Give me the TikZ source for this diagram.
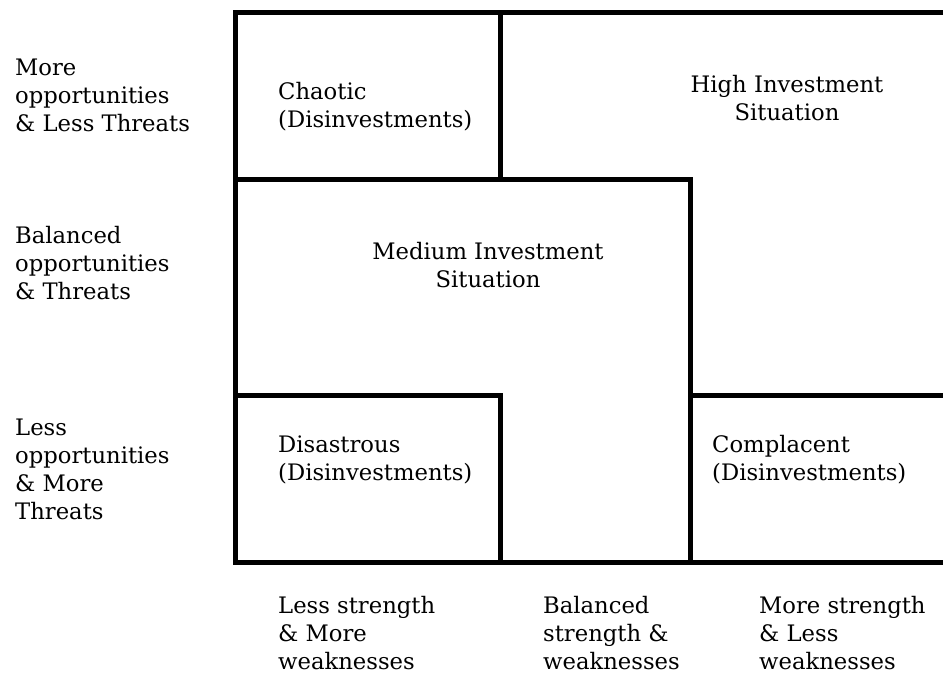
\documentclass[tikz,border=0pt]{standalone}
\usepackage{fontspec}
\setmainfont{DejaVu Serif}
\begin{document}
\begin{tikzpicture}[x=1pt,y=-1pt,
  wall/.style={line width=5pt,line join=miter,line cap=rect},
  lbl/.style={font=\fontsize{22.7}{28}\selectfont,inner sep=0pt,align=left},
  clbl/.style={font=\fontsize{22.7}{28}\selectfont,inner sep=0pt,align=center}]
\useasboundingbox (0,0) rectangle (943,673);
% grid
\draw[wall] (950,12) -- (235,12) -- (235,562) -- (950,562);
\draw[wall] (500,12) -- (500,179);
\draw[wall] (235,179) -- (690,179) -- (690,562);
\draw[wall] (235,395) -- (500,395) -- (500,562);
\draw[wall] (690,395) -- (950,395);
% cell texts (anchor = baseline of last line)
\node[lbl,anchor=base west] (chaotic) at (278,127) {Chaotic\\(Disinvestments)};
\node[clbl,anchor=base] (high) at (787,120) {High Investment\\Situation};
\node[clbl,anchor=base] (medium) at (488,287) {Medium Investment\\Situation};
\node[lbl,anchor=base west] (disastrous) at (278,480) {Disastrous\\(Disinvestments)};
\node[lbl,anchor=base west] (complacent) at (712,480) {Complacent\\(Disinvestments)};
% row labels
\node[lbl,anchor=base west] (row1) at (15,131) {More\\opportunities\\\& Less Threats};
\node[lbl,anchor=base west] (row2) at (15,299) {Balanced\\opportunities\\\& Threats};
\node[lbl,anchor=base west] (row3) at (15,519) {Less\\opportunities\\\& More\\Threats};
% column labels
\node[lbl,anchor=base west] (col1) at (278,669) {Less strength\\\& More\\weaknesses};
\node[lbl,anchor=base west] (col2) at (543,669) {Balanced\\strength \&\\weaknesses};
\node[lbl,anchor=base west] (col3) at (759,669) {More strength\\\& Less\\weaknesses};
\end{tikzpicture}
\end{document}
